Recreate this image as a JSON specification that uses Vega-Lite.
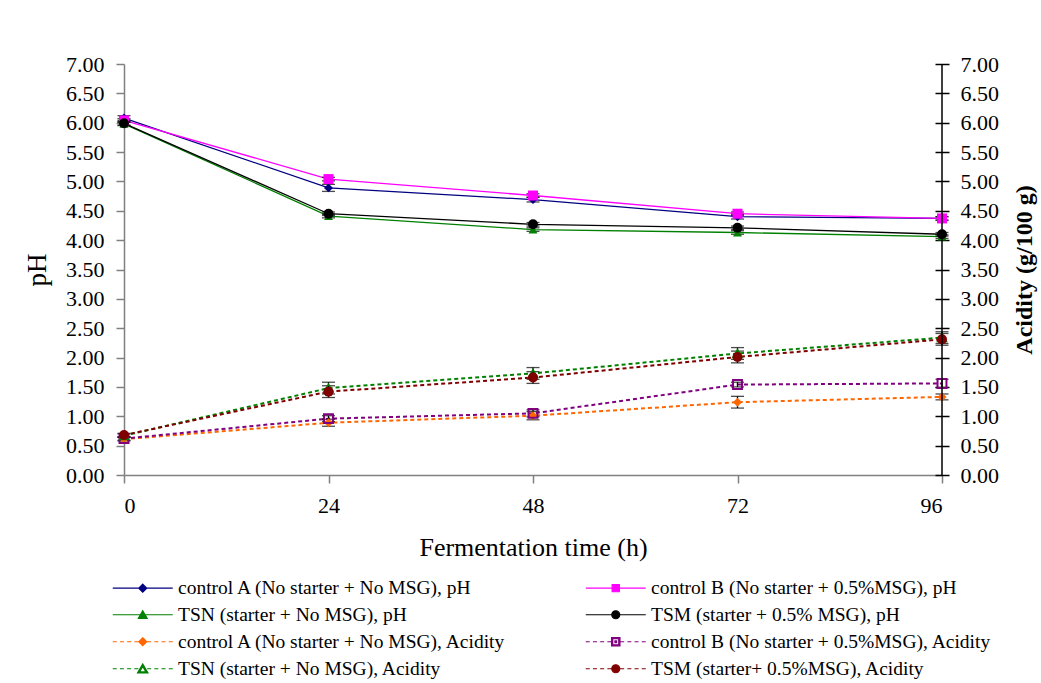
{
  "$schema": "https://vega.github.io/schema/vega-lite/v6.json",
  "autosize": "none",
  "width": 818,
  "height": 411,
  "padding": {"left": 124, "top": 64, "right": 99, "bottom": 208},
  "background": "white",
  "config": {
    "font": "Liberation Serif",
    "view": {"stroke": null},
    "axis": {"grid": false, "labelFont": "Liberation Serif", "titleFont": "Liberation Serif", "labelColor": "black", "titleColor": "black"},
    "legend": {"labelFont": "Liberation Serif"}
  },
  "datasets": {
    "d": [
      {"s": "control A (No starter + No MSG), pH", "k": "pH", "t": 0, "v": 6.08, "e": 0.04},
      {"s": "control A (No starter + No MSG), pH", "k": "pH", "t": 24, "v": 4.89, "e": 0.06},
      {"s": "control A (No starter + No MSG), pH", "k": "pH", "t": 48, "v": 4.69, "e": 0.04},
      {"s": "control A (No starter + No MSG), pH", "k": "pH", "t": 72, "v": 4.40, "e": 0.04},
      {"s": "control A (No starter + No MSG), pH", "k": "pH", "t": 96, "v": 4.37, "e": 0.03},
      {"s": "control B (No starter + 0.5%MSG), pH", "k": "pH", "t": 0, "v": 6.04, "e": 0.03},
      {"s": "control B (No starter + 0.5%MSG), pH", "k": "pH", "t": 24, "v": 5.04, "e": 0.03},
      {"s": "control B (No starter + 0.5%MSG), pH", "k": "pH", "t": 48, "v": 4.76, "e": 0.03},
      {"s": "control B (No starter + 0.5%MSG), pH", "k": "pH", "t": 72, "v": 4.45, "e": 0.03},
      {"s": "control B (No starter + 0.5%MSG), pH", "k": "pH", "t": 96, "v": 4.37, "e": 0.03},
      {"s": "TSN (starter + No MSG), pH", "k": "pH", "t": 0, "v": 5.98, "e": 0.03},
      {"s": "TSN (starter + No MSG), pH", "k": "pH", "t": 24, "v": 4.41, "e": 0.03},
      {"s": "TSN (starter + No MSG), pH", "k": "pH", "t": 48, "v": 4.18, "e": 0.03},
      {"s": "TSN (starter + No MSG), pH", "k": "pH", "t": 72, "v": 4.13, "e": 0.03},
      {"s": "TSN (starter + No MSG), pH", "k": "pH", "t": 96, "v": 4.06, "e": 0.03},
      {"s": "TSM (starter + 0.5% MSG), pH", "k": "pH", "t": 0, "v": 5.99, "e": 0.03},
      {"s": "TSM (starter + 0.5% MSG), pH", "k": "pH", "t": 24, "v": 4.45, "e": 0.03},
      {"s": "TSM (starter + 0.5% MSG), pH", "k": "pH", "t": 48, "v": 4.27, "e": 0.03},
      {"s": "TSM (starter + 0.5% MSG), pH", "k": "pH", "t": 72, "v": 4.21, "e": 0.03},
      {"s": "TSM (starter + 0.5% MSG), pH", "k": "pH", "t": 96, "v": 4.10, "e": 0.03},
      {"s": "control A (No starter + No MSG), Acidity", "k": "Acidity", "t": 0, "v": 0.61, "e": 0.03},
      {"s": "control A (No starter + No MSG), Acidity", "k": "Acidity", "t": 24, "v": 0.89, "e": 0.06},
      {"s": "control A (No starter + No MSG), Acidity", "k": "Acidity", "t": 48, "v": 1.01, "e": 0.07},
      {"s": "control A (No starter + No MSG), Acidity", "k": "Acidity", "t": 72, "v": 1.24, "e": 0.1},
      {"s": "control A (No starter + No MSG), Acidity", "k": "Acidity", "t": 96, "v": 1.33, "e": 0.05},
      {"s": "control B (No starter + 0.5%MSG), Acidity", "k": "Acidity", "t": 0, "v": 0.62, "e": 0.03},
      {"s": "control B (No starter + 0.5%MSG), Acidity", "k": "Acidity", "t": 24, "v": 0.96, "e": 0.05},
      {"s": "control B (No starter + 0.5%MSG), Acidity", "k": "Acidity", "t": 48, "v": 1.05, "e": 0.06},
      {"s": "control B (No starter + 0.5%MSG), Acidity", "k": "Acidity", "t": 72, "v": 1.54, "e": 0.04},
      {"s": "control B (No starter + 0.5%MSG), Acidity", "k": "Acidity", "t": 96, "v": 1.56, "e": 0.07},
      {"s": "TSN (starter + No MSG), Acidity", "k": "Acidity", "t": 0, "v": 0.67, "e": 0.03},
      {"s": "TSN (starter + No MSG), Acidity", "k": "Acidity", "t": 24, "v": 1.48, "e": 0.1},
      {"s": "TSN (starter + No MSG), Acidity", "k": "Acidity", "t": 48, "v": 1.73, "e": 0.1},
      {"s": "TSN (starter + No MSG), Acidity", "k": "Acidity", "t": 72, "v": 2.07, "e": 0.1},
      {"s": "TSN (starter + No MSG), Acidity", "k": "Acidity", "t": 96, "v": 2.34, "e": 0.1},
      {"s": "TSM (starter+ 0.5%MSG), Acidity", "k": "Acidity", "t": 0, "v": 0.68, "e": 0.03},
      {"s": "TSM (starter+ 0.5%MSG), Acidity", "k": "Acidity", "t": 24, "v": 1.42, "e": 0.1},
      {"s": "TSM (starter+ 0.5%MSG), Acidity", "k": "Acidity", "t": 48, "v": 1.66, "e": 0.1},
      {"s": "TSM (starter+ 0.5%MSG), Acidity", "k": "Acidity", "t": 72, "v": 2.01, "e": 0.1},
      {"s": "TSM (starter+ 0.5%MSG), Acidity", "k": "Acidity", "t": 96, "v": 2.31, "e": 0.1}
    ]
  },
  "data": {"name": "d"},
  "encoding": {
    "x": {
      "field": "t", "type": "quantitative",
      "scale": {"domain": [0, 96]},
      "axis": {
        "values": [0, 24, 48, 72, 96],
        "title": "Fermentation time (h)",
        "titleFontSize": 26, "titleFontWeight": "normal", "titlePadding": 18,
        "labelFontSize": 22, "labelPadding": 12,
        "domainColor": "#808080", "tickColor": "#808080", "tickSize": 8, "domainWidth": 1.5, "tickWidth": 1.5
      }
    }
  },
  "layer": [
    {
      "transform": [{"filter": "datum.k === 'pH'"}],
      "mark": {"type": "line", "strokeWidth": 1.3},
      "encoding": {
        "y": {
          "field": "v", "type": "quantitative",
          "scale": {"domain": [0, 7]},
          "axis": {
            "orient": "left", "title": "pH", "values": [0, 0.5, 1, 1.5, 2, 2.5, 3, 3.5, 4, 4.5, 5, 5.5, 6, 6.5, 7],
            "format": ".2f", "labelFontSize": 22, "labelPadding": 12,
            "titleFontSize": 27, "titleFontWeight": "normal", "titlePadding": 14,
            "domainColor": "#808080", "tickColor": "#808080", "tickSize": 8, "domainWidth": 1.5, "tickWidth": 1.5
          }
        },
        "color": {"field": "s", "type": "nominal", "legend": null,
          "scale": {
            "domain": ["control A (No starter + No MSG), pH", "control A (No starter + No MSG), Acidity", "control B (No starter + 0.5%MSG), pH", "control B (No starter + 0.5%MSG), Acidity", "TSN (starter + No MSG), pH", "TSN (starter + No MSG), Acidity", "TSM (starter + 0.5% MSG), pH", "TSM (starter+ 0.5%MSG), Acidity"],
            "range": ["#000080", "#FF6600", "#FF00FF", "#800080", "#008000", "#008000", "#000000", "#800000"]
          }
        }
      }
    },
    {
      "transform": [{"filter": "datum.k === 'Acidity'"}],
      "mark": {"type": "line", "strokeWidth": 2, "strokeDash": [4, 3]},
      "encoding": {
        "y": {"field": "v", "type": "quantitative", "axis": null},
        "color": {"field": "s", "type": "nominal", "legend": null}
      }
    },
    {
      "mark": {"type": "errorbar", "color": "black", "thickness": 1.3, "ticks": {"size": 13}},
      "encoding": {
        "y": {"field": "v", "type": "quantitative", "axis": null},
        "yError": {"field": "e"},
        "detail": {"field": "s"}
      }
    },
    {
      "transform": [{"filter": {"field": "s", "oneOf": ["control A (No starter + No MSG), pH", "control A (No starter + No MSG), Acidity"]}}],
      "mark": {"type": "point", "shape": "diamond", "filled": true, "size": 80, "opacity": 1},
      "encoding": {
        "y": {"field": "v", "type": "quantitative", "axis": null},
        "color": {"field": "s", "type": "nominal", "legend": null}
      }
    },
    {
      "transform": [{"filter": {"field": "s", "oneOf": ["control B (No starter + 0.5%MSG), pH"]}}],
      "mark": {"type": "point", "shape": "square", "filled": true, "size": 100, "opacity": 1},
      "encoding": {
        "y": {"field": "v", "type": "quantitative", "axis": null},
        "color": {"field": "s", "type": "nominal", "legend": null}
      }
    },
    {
      "transform": [{"filter": {"field": "s", "oneOf": ["TSN (starter + No MSG), pH"]}}],
      "mark": {"type": "point", "shape": "triangle-up", "filled": true, "size": 80, "opacity": 1},
      "encoding": {
        "y": {"field": "v", "type": "quantitative", "axis": null},
        "color": {"field": "s", "type": "nominal", "legend": null}
      }
    },
    {
      "transform": [{"filter": {"field": "s", "oneOf": ["control B (No starter + 0.5%MSG), Acidity"]}}],
      "mark": {"type": "point", "shape": "square", "filled": false, "size": 80, "strokeWidth": 2, "opacity": 1},
      "encoding": {
        "y": {"field": "v", "type": "quantitative", "axis": null},
        "color": {"field": "s", "type": "nominal", "legend": null}
      }
    },
    {
      "transform": [{"filter": {"field": "s", "oneOf": ["TSN (starter + No MSG), Acidity"]}}],
      "mark": {"type": "point", "shape": "triangle-up", "filled": false, "size": 80, "strokeWidth": 1.5, "opacity": 1},
      "encoding": {
        "y": {"field": "v", "type": "quantitative", "axis": null},
        "color": {"field": "s", "type": "nominal", "legend": null}
      }
    },
    {
      "transform": [{"filter": {"field": "s", "oneOf": ["TSM (starter + 0.5% MSG), pH", "TSM (starter+ 0.5%MSG), Acidity"]}}],
      "mark": {"type": "point", "shape": "circle", "filled": true, "size": 100, "opacity": 1},
      "encoding": {
        "y": {"field": "v", "type": "quantitative", "axis": null},
        "color": {"field": "s", "type": "nominal", "legend": null}
      }
    },
    {
      "transform": [{"filter": "datum.t < 0"}],
      "mark": {"type": "point", "filled": true, "size": 64, "strokeWidth": 1.3, "opacity": 1},
      "encoding": {
        "y": {"field": "v", "type": "quantitative", "axis": null},
        "fill": {"field": "s", "type": "nominal",
          "scale": {
            "domain": ["control A (No starter + No MSG), pH", "control B (No starter + 0.5%MSG), pH", "TSN (starter + No MSG), pH", "TSM (starter + 0.5% MSG), pH", "control A (No starter + No MSG), Acidity", "control B (No starter + 0.5%MSG), Acidity", "TSN (starter + No MSG), Acidity", "TSM (starter+ 0.5%MSG), Acidity"],
            "range": ["#000080", "#FF00FF", "#008000", "#000000", "#FF6600", "#800080", "#008000", "#800000"]
          },
          "legend": {
            "orient": "none", "legendX": -17, "legendY": 514, "columns": 2, "direction": "horizontal", "title": null,
            "labelFontSize": 19.5, "labelOffset": 51.5, "columnPadding": 72, "rowPadding": 6,
            "symbolSize": 64, "symbolStrokeWidth": 1.2, "padding": 0, "labelLimit": 500
          }
        },
        "stroke": {"field": "s", "type": "nominal",
          "scale": {
            "domain": ["control A (No starter + No MSG), pH", "control B (No starter + 0.5%MSG), pH", "TSN (starter + No MSG), pH", "TSM (starter + 0.5% MSG), pH", "control A (No starter + No MSG), Acidity", "control B (No starter + 0.5%MSG), Acidity", "TSN (starter + No MSG), Acidity", "TSM (starter+ 0.5%MSG), Acidity"],
            "range": ["#000080", "#FF00FF", "#008000", "#000000", "#FF6600", "#800080", "#008000", "#800000"]
          },
          "legend": {
            "orient": "none", "legendX": -17, "legendY": 514, "columns": 2, "direction": "horizontal", "title": null,
            "labelFontSize": 19.5, "labelOffset": 51.5, "columnPadding": 72, "rowPadding": 6,
            "symbolSize": 64, "symbolStrokeWidth": 1.2, "padding": 0, "labelLimit": 500
          }
        },
        "shape": {"field": "s", "type": "nominal",
          "scale": {
            "domain": ["control A (No starter + No MSG), pH", "control B (No starter + 0.5%MSG), pH", "TSN (starter + No MSG), pH", "TSM (starter + 0.5% MSG), pH", "control A (No starter + No MSG), Acidity", "control B (No starter + 0.5%MSG), Acidity", "TSN (starter + No MSG), Acidity", "TSM (starter+ 0.5%MSG), Acidity"],
            "range": [
              "M-1,0H14M6.5,-1L7.5,0L6.5,1L5.5,0Z",
              "M-1,0H14M5.6,-0.9H7.4V0.9H5.6Z",
              "M-1,0H14M6.5,-1L7.6,0.9H5.4Z",
              "M-1,0H14M5.5,0A1,1 0 1,1 7.5,0A1,1 0 1,1 5.5,0Z",
              "M-1,0H0M0.8,0H1.8M2.6,0H3.6M4.4,0H5.4M7.6,0H8.6M9.4,0H10.4M11.2,0H12.2M13,0H14M6.5,-1L7.5,0L6.5,1L5.5,0Z",
              "M-1,0H0M0.8,0H1.8M2.6,0H3.6M4.4,0H5.4M7.6,0H8.6M9.4,0H10.4M11.2,0H12.2M13,0H14M5.45,-1.05H7.55V1.05H5.45ZM5.75,-0.75V0.75H7.25V-0.75ZM6.3,-0.2H6.7V0.2H6.3Z",
              "M-1,0H0M0.8,0H1.8M2.6,0H3.6M4.4,0H5.4M7.6,0H8.6M9.4,0H10.4M11.2,0H12.2M13,0H14M6.5,-1.2L7.8,1.05H5.2ZM6.5,-0.55L5.7,0.8H7.3Z",
              "M-1,0H0M0.8,0H1.8M2.6,0H3.6M4.4,0H5.4M7.6,0H8.6M9.4,0H10.4M11.2,0H12.2M13,0H14M5.5,0A1,1 0 1,1 7.5,0A1,1 0 1,1 5.5,0Z"
            ]
          },
          "legend": {
            "orient": "none", "legendX": -17, "legendY": 514, "columns": 2, "direction": "horizontal", "title": null,
            "labelFontSize": 19.5, "labelOffset": 51.5, "columnPadding": 72, "rowPadding": 6,
            "symbolSize": 64, "symbolStrokeWidth": 1.2, "padding": 0, "labelLimit": 500
          }
        }
      }
    },
    {
      "transform": [{"filter": "datum.t === 96 && datum.s === 'control A (No starter + No MSG), pH'"}],
      "mark": {"type": "rule", "color": "black", "strokeWidth": 1.5},
      "encoding": {
        "y": {
          "datum": 0, "type": "quantitative",
          "axis": {
            "orient": "right", "title": "Acidity (g/100 g)", "values": [0, 0.5, 1, 1.5, 2, 2.5, 3, 3.5, 4, 4.5, 5, 5.5, 6, 6.5, 7],
            "format": ".2f", "labelFontSize": 22, "labelPadding": 11, "offset": -7, "domain": false,
            "tickSize": 14, "tickColor": "black", "tickWidth": 1.5,
            "titleFontSize": 24, "titleFontWeight": "bold", "titleAngle": 270, "titleBaseline": "top", "titlePadding": 14
          }
        },
        "y2": {"datum": 7}
      }
    }
  ],
  "resolve": {"axis": {"y": "independent"}}
}
